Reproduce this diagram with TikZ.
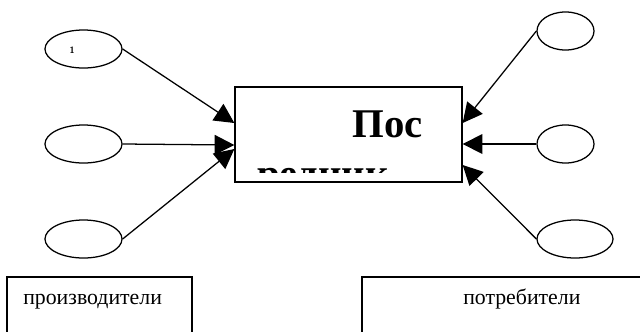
\documentclass[tikz,border=0pt]{standalone}
\usepackage{fontspec}
\setmainfont{Liberation Serif}
\usetikzlibrary{shapes.geometric,arrows.meta}
\begin{document}
\begin{tikzpicture}[x=0.025cm,y=-0.025cm,
    oval/.style={draw,ellipse,line width=0.9pt,inner sep=0pt,minimum height=0.95cm},
    arr/.style={-{Triangle[length=14pt,width=14pt]},line width=0.9pt},
    frame/.style={draw,line width=0.9pt},
    word/.style={anchor=base west,inner sep=0pt,font=\fontsize{15.5}{18}\selectfont}]
    \clip (0,0) rectangle (640,331);
    % producers
    \node[oval,minimum width=1.925cm,
      label={[xshift=-8pt,yshift=-1pt,font=\sffamily\bfseries\fontsize{6.5}{7}\selectfont]center:1}] (p1) at (83.5,49) {};
    \node[oval,minimum width=1.925cm] (p2) at (83.5,144) {};
    \node[oval,minimum width=1.925cm] (p3) at (83.5,239) {};
    % consumers
    \node[oval,minimum width=1.425cm] (c1) at (565.5,31) {};
    \node[oval,minimum width=1.425cm] (c2) at (565.5,144) {};
    \node[oval,minimum width=1.9cm] (c3) at (575,239) {};
    % middle box
    \node[frame,minimum width=5.675cm,minimum height=2.375cm] (mid) at (348.5,134.5) {};
    \begin{scope}
      \clip (237,89) rectangle (460,172);
      \node[word,font=\bfseries\fontsize{29}{35}\selectfont] (t1) at (352,137) {Пос};
      \node[word,font=\bfseries\fontsize{29}{35}\selectfont] (t2) at (257,187) {редник};
    \end{scope}
    \draw[arr] (p1.east) -- (mid.west |- 0,123);
    \draw[arr] (p2.east) -- (mid.west |- 0,145);
    \draw[arr] (p3.east) -- (mid.west |- 0,149);
    \draw[arr] (c1.west) -- (mid.east |- 0,123);
    \draw[arr] (c2.west) -- (mid.east |- 0,144);
    \draw[arr] (c3.west) -- (mid.east |- 0,165);
    % bottom boxes
    \draw[frame] (7,277) rectangle (192,345);
    \node[word] (prod) at (23,304) {производители};
    \draw[frame] (362,277) rectangle (650,345);
    \node[word] (cons) at (463,304) {потребители};
\end{tikzpicture}
\end{document}
